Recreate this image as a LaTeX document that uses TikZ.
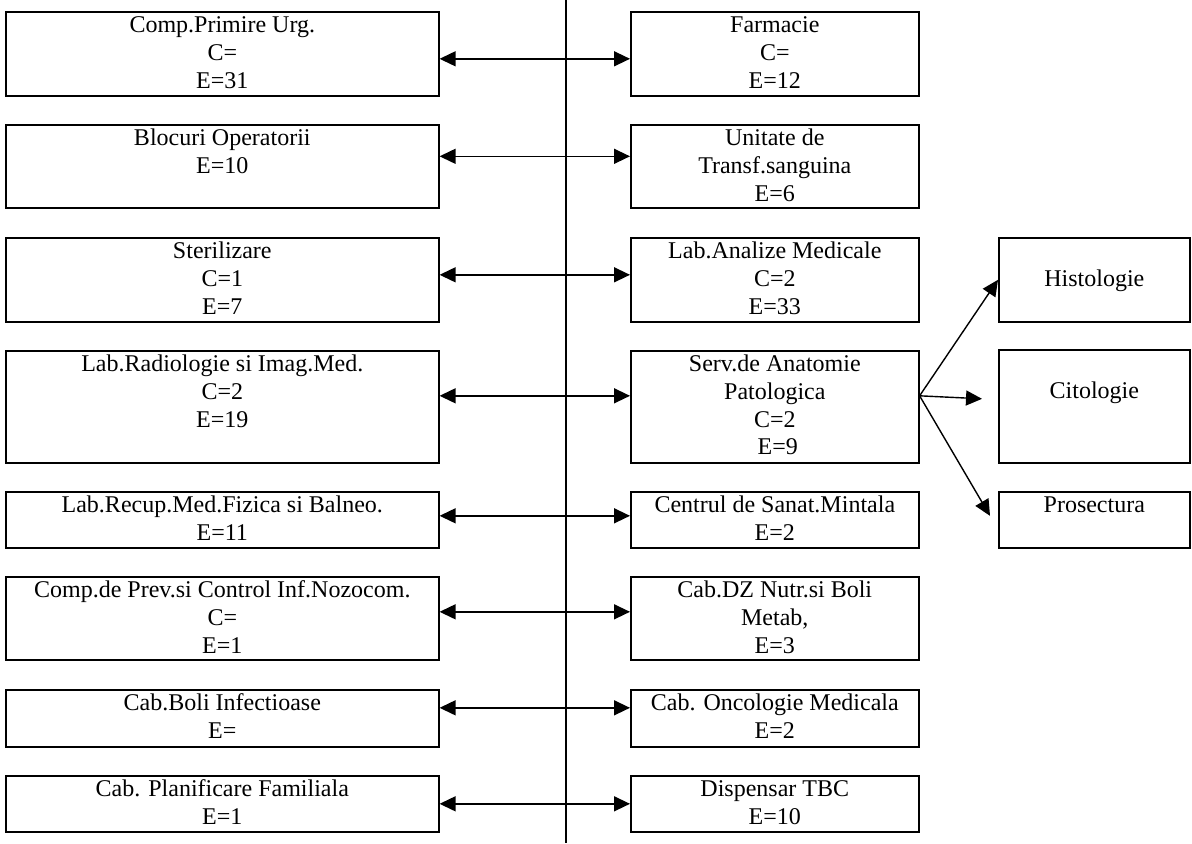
\documentclass[tikz,border=0pt]{standalone}
\usepackage{fontspec}
\setmainfont{Liberation Serif}
\usetikzlibrary{arrows.meta}

\newcommand{\unitbox}[3]{\parbox[c][#2][t]{#1}{\centering\rule{0pt}{10.5pt}#3}}

\begin{document}
\begin{tikzpicture}[x=0.5pt, y=-0.5pt,
    >={Triangle[length=8pt, width=7.5pt]},
    unit/.style={draw, line width=0.8pt, inner sep=0pt, anchor=north west,
      font=\fontsize{12}{13.8}\selectfont},
    link/.style={<->, line width=0.7pt},
    branch/.style={->, line width=0.7pt}]
    \useasboundingbox (0, 0) rectangle (1192, 843);

    % left column
    \node [unit] (l1) at (5,  11) {\unitbox{216.5pt}{42pt}{Comp.Primire Urg.\\C=\\E=31}};
    \node [unit] (l2) at (5, 124) {\unitbox{216.5pt}{41.5pt}{Blocuri Operatorii\\E=10}};
    \node [unit] (l3) at (5, 237) {\unitbox{216.5pt}{42pt}{Sterilizare\\C=1\\E=7}};
    \node [unit] (l4) at (5, 350) {\unitbox{216.5pt}{56pt}{Lab.Radiologie si Imag.Med.\\C=2\\E=19}};
    \node [unit] (l5) at (5, 491) {\unitbox{216.5pt}{28pt}{Lab.Recup.Med.Fizica si Balneo.\\E=11}};
    \node [unit] (l6) at (5, 576) {\unitbox{216.5pt}{41.5pt}{Comp.de Prev.si Control Inf.Nozocom.\\C=\\E=1}};
    \node [unit] (l7) at (5, 689) {\unitbox{216.5pt}{28.5pt}{Cab.Boli Infectioase\\E=}};
    \node [unit] (l8) at (5, 775) {\unitbox{216.5pt}{28pt}{Cab. Planificare Familiala\\E=1}};

    % right column
    \node [unit] (r1) at (630,  11) {\unitbox{144pt}{42pt}{Farmacie\\C=\\E=12}};
    \node [unit] (r2) at (630, 124) {\unitbox{144pt}{41.5pt}{Unitate de\\Transf.sanguina\\E=6}};
    \node [unit] (r3) at (630, 237) {\unitbox{144pt}{42pt}{Lab.Analize Medicale\\C=2\\E=33}};
    \node [unit] (r4) at (630, 350) {\unitbox{144pt}{56pt}{Serv.de Anatomie\\Patologica\\C=2\\\hspace*{3pt}E=9}};
    \node [unit] (r5) at (630, 491) {\unitbox{144pt}{28pt}{Centrul de Sanat.Mintala\\E=2}};
    \node [unit] (r6) at (630, 576) {\unitbox{144pt}{41.5pt}{Cab.DZ Nutr.si Boli\\Metab,\\E=3}};
    \node [unit] (r7) at (630, 689) {\unitbox{144pt}{28.5pt}{Cab. Oncologie Medicala\\E=2}};
    \node [unit] (r8) at (630, 775) {\unitbox{144pt}{28pt}{Dispensar TBC\\E=10}};

    % anatomy sections
    \node [unit] (hist) at (998, 237) {\unitbox{95.5pt}{42pt}{\\Histologie}};
    \node [unit] (cito) at (998, 349) {\unitbox{95.5pt}{56.5pt}{\\Citologie}};
    \node [unit] (pros) at (998, 491) {\unitbox{95.5pt}{28pt}{Prosectura}};

    % spine
    \coordinate (spinetop) at (566, 0);
    \coordinate (spinebot) at (566, 843);
    \draw [line width=1pt] (spinetop) -- (spinebot);

    % links
    \foreach \i/\s in {1/-2.5pt, 2/5pt, 3/2.5pt, 4/5.5pt, 5/2pt, 6/3.25pt, 7/5.25pt, 8/0pt} {
      \draw [link] ([yshift=\s]l\i.east) -- ([yshift=\s]r\i.west);
    }

    % branches
    \coordinate (fan) at ([yshift=5.5pt]r4.east);
    \draw [branch] (fan) -- (hist.west);
    \draw [branch] (fan) -- ([xshift=-8pt, yshift=3.75pt]cito.west);
    \draw [branch] (fan) -- ([xshift=-4pt, yshift=2pt]pros.west);
  \end{tikzpicture}
\end{document}
